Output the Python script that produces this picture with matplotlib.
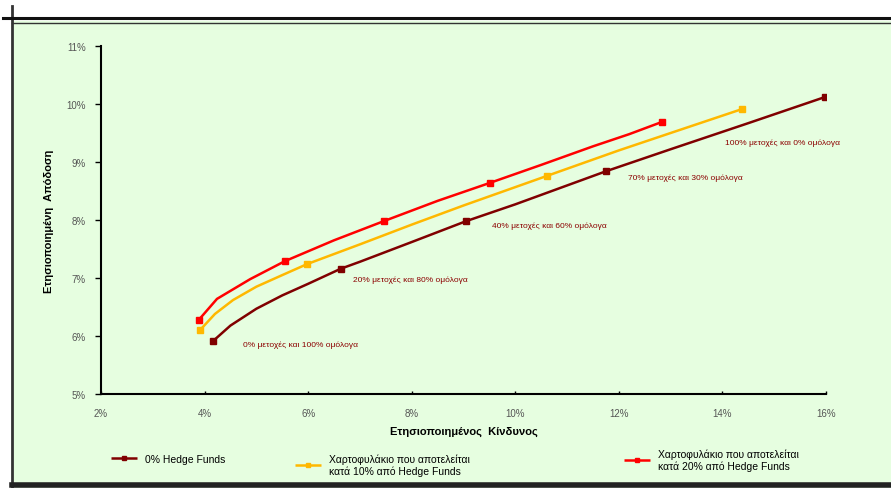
import matplotlib.pyplot as plt
from matplotlib.lines import Line2D
from matplotlib.ticker import FuncFormatter

plt.rcParams['font.family'] = ['Liberation Sans', 'DejaVu Sans']

# risk (%) / return (%)
risk_0 = [4.16, 4.5, 5.0, 5.5, 6.0, 6.63, 7.0, 8.0, 9.05, 10.0, 11.75,
          13.0, 14.5, 15.98]
ret_0 = [5.91, 6.18, 6.47, 6.70, 6.90, 7.16, 7.28, 7.62, 7.98, 8.27, 8.84,
         9.22, 9.67, 10.12]
marks_0 = [0, 5, 8, 10, 13]

risk_10 = [3.91, 4.2, 4.55, 5.0, 5.5, 5.98, 7.0, 8.0, 9.0, 10.61, 12.0,
           13.0, 14.37]
ret_10 = [6.10, 6.38, 6.62, 6.85, 7.05, 7.24, 7.58, 7.92, 8.25, 8.76, 9.20,
          9.50, 9.91]
marks_10 = [0, 5, 9, 12]

risk_20 = [3.89, 4.24, 4.88, 5.55, 6.5, 7.46, 8.5, 9.51, 10.5, 11.5, 12.2,
           12.83]
ret_20 = [6.28, 6.64, 6.98, 7.29, 7.65, 7.98, 8.33, 8.64, 8.95, 9.27, 9.48,
          9.69]
marks_20 = [0, 3, 5, 7, 11]

labels = ['0% Hedge Funds',
          'Χαρτοφυλάκιο που αποτελείται\nκατά 10% από Hedge Funds',
          'Χαρτοφυλάκιο που αποτελείται\nκατά 20% από Hedge Funds']
colours = ['#800000', '#FFB800', '#FF0000']

notes = ['0% μετοχές και 100% ομόλογα', '20% μετοχές και 80% ομόλογα',
         '40% μετοχές και 60% ομόλογα', '70% μετοχές και 30% ομόλογα',
         '100% μετοχές και 0% ομόλογα']
note_x = [4.74, 6.86, 9.55, 12.17, 14.05]
note_y = [5.86, 6.98, 7.91, 8.74, 9.34]

bg = '#E6FEE0'
fig = plt.figure(figsize=(8.91, 4.89), dpi=100)
fig.patch.set_facecolor('white')

# green panel and frame lines
fig.add_artist(plt.Rectangle((14 / 891, 0), 1, 1 - 22 / 489,
                             transform=fig.transFigure, color=bg, zorder=-5))
fig.add_artist(Line2D([12 / 891, 12 / 891], [0, 1 - 7 / 489],
                      transform=fig.transFigure, color='#333333', lw=2))
fig.add_artist(Line2D([3 / 891, 1], [1 - 19 / 489, 1 - 19 / 489],
                      transform=fig.transFigure, color='#111111', lw=2.2))
fig.add_artist(Line2D([12 / 891, 1], [1 - 23.5 / 489, 1 - 23.5 / 489],
                      transform=fig.transFigure, color='#333333', lw=1))
fig.add_artist(Line2D([12 / 891, 1], [3 / 489, 3 / 489],
                      transform=fig.transFigure, color='#222222', lw=4))

ax = fig.add_axes([101 / 891, 94 / 489, 725 / 891, 348 / 489])
ax.set_facecolor(bg)
ax.patch.set_alpha(0)

series = [(risk_0, ret_0, marks_0), (risk_10, ret_10, marks_10),
          (risk_20, ret_20, marks_20)]
handles = []
for (x, y, m), c, lab in zip(series, colours, labels):
    h, = ax.plot(x, y, color=c, lw=1.8, marker='s', ms=5, markevery=m,
                 label=lab, solid_capstyle='butt')
    handles.append(h)

for t, x, y in zip(notes, note_x, note_y):
    ax.text(x, y, t, color='#8B0000', fontsize=6, va='center', ha='left')

ax.set_xlim(2, 16)
ax.set_ylim(5, 11)
ax.set_xticks(range(2, 17, 2))
ax.set_yticks(range(5, 12))
pct = FuncFormatter(lambda v, p: '%d%%' % v)
ax.xaxis.set_major_formatter(pct)
ax.yaxis.set_major_formatter(pct)
ax.tick_params(axis='y', direction='out', length=4, width=1,
               labelsize=7, labelcolor='#555555', pad=7)
ax.tick_params(axis='x', direction='in', length=2, width=1,
               labelsize=7, labelcolor='#555555', pad=10)
for s in ['top', 'right']:
    ax.spines[s].set_visible(False)
for s in ['left', 'bottom']:
    ax.spines[s].set_linewidth(1.5)

ax.set_xlabel('Ετησιοποιημένος  Κίνδυνος', fontsize=8, fontweight='bold',
              labelpad=6)
ax.set_ylabel('Ετησιοποιημένη  Απόδοση', fontsize=8, fontweight='bold',
              labelpad=9)

# legend entries placed one by one
legend_pos = [(102 / 891, 1 - 460 / 489), (286 / 891, 1 - 466 / 489),
              (615 / 891, 1 - 461 / 489)]
for h, pos in zip(handles, legend_pos):
    fig.legend([h], [h.get_label()], loc='center left',
               bbox_to_anchor=pos, frameon=False, fontsize=7.5,
               handlelength=2.5, markerscale=0.6, handletextpad=0.7)

fig.savefig('out.png', dpi=100, facecolor=fig.get_facecolor())
